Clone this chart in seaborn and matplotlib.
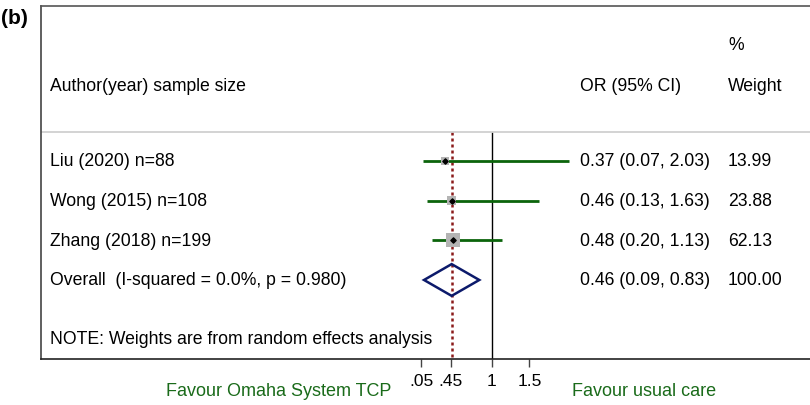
import matplotlib
matplotlib.use('Agg')
import matplotlib.pyplot as plt
import matplotlib.transforms as mtransforms
import seaborn as sns
import pandas as pd

# study data
studies = ['Liu (2020) n=88', 'Wong (2015) n=108', 'Zhang (2018) n=199']
odds = [0.37, 0.46, 0.48]
lower = [0.07, 0.13, 0.20]
upper = [2.03, 1.63, 1.13]
weights = [13.99, 23.88, 62.13]
overall_label = 'Overall  (I-squared = 0.0%, p = 0.980)'
overall = [0.46, 0.09, 0.83]
overall_weight = '100.00'
tick_vals = [0.05, 0.45, 1, 1.5]
tick_labels = ['.05', '.45', '1', '1.5']

df = pd.DataFrame({'study': studies, 'or': odds, 'lo': lower, 'hi': upper,
                   'w': weights, 'row': [1, 2, 3]})

sns.set_style('white')
plt.rcParams['font.family'] = ['Liberation Sans', 'DejaVu Sans']
plt.rcParams['text.color'] = 'black'
plt.rcParams['xtick.color'] = 'black'

fig = plt.figure(figsize=(8.1, 4.06), dpi=100)
ax = fig.add_axes([41 / 810, 46 / 406, 769 / 810, 353 / 406])
ax.set_xlim(-5.037, 5.257)
ax.set_ylim(5.99, -2.9)

# confidence intervals
ax.hlines(df['row'], df['lo'], df['hi'], color='#0b640b', lw=2.0, zorder=2)
sns.scatterplot(data=df, x='or', y='row', size='w', sizes=(28, 105), marker='s',
                color='#b4b4b4', edgecolor='none', legend=False, ax=ax, zorder=3)
ax.scatter(df['or'], df['row'], marker='D', s=7, color='black', zorder=4)

# overall diamond
est, lo, hi = overall
ax.fill([lo, est, hi, est, lo], [4, 3.6, 4, 4.4, 4], facecolor='none',
        edgecolor='#0c1a6b', lw=1.8, zorder=3)

# reference lines
ax.vlines(1, 0.27, 5.99, color='black', lw=1.0, zorder=1)
ax.vlines(est, 0.27, 5.99, color='#8b1a1a', lw=1.8, linestyles=(0, (1.2, 1.2)), zorder=1)
ax.axhline(0.27, color='#cccccc', lw=1.2)

tr = mtransforms.blended_transform_factory(fig.transFigure, ax.transData)
fs = 12.7
x_name, x_or, x_w = 50 / 810, 580 / 810, 728 / 810
ax.text(x_w, -1.92, '%', transform=tr, fontsize=fs, va='center')
ax.text(x_name, -0.91, 'Author(year) sample size', transform=tr, fontsize=fs, va='center')
ax.text(x_or, -0.91, 'OR (95% CI)', transform=tr, fontsize=fs, va='center')
ax.text(x_w, -0.91, 'Weight', transform=tr, fontsize=fs, va='center')
for _, r in df.iterrows():
    ax.text(x_name, r['row'], r['study'], transform=tr, fontsize=fs, va='center')
    ax.text(x_or, r['row'], f"{r['or']:.2f} ({r['lo']:.2f}, {r['hi']:.2f})",
            transform=tr, fontsize=fs, va='center')
    ax.text(x_w, r['row'], f"{r['w']:.2f}", transform=tr, fontsize=fs, va='center')
ax.text(x_name, 4, overall_label, transform=tr, fontsize=fs, va='center')
ax.text(x_or, 4, f'{est:.2f} ({lo:.2f}, {hi:.2f})', transform=tr, fontsize=fs, va='center')
ax.text(x_w, 4, overall_weight, transform=tr, fontsize=fs, va='center')
ax.text(x_name, 5.48, 'NOTE: Weights are from random effects analysis',
        transform=tr, fontsize=fs, va='center')

# axis
ax.set_yticks([])
ax.set_xticks(tick_vals)
ax.set_xticklabels(tick_labels, fontsize=12.5)
ax.tick_params(axis='x', direction='out', length=6, width=1, color='#444444', pad=4, bottom=True)
for side in ['left', 'top', 'bottom']:
    ax.spines[side].set_visible(True)
    ax.spines[side].set_linewidth(1.2)
ax.spines['left'].set_color('#444444')
ax.spines['top'].set_color('#555555')
ax.spines['bottom'].set_color('#222222')
ax.spines['right'].set_visible(False)
ax.set_xlabel('')
ax.set_ylabel('')

fig.text(279 / 810, 1 - 392 / 406, 'Favour Omaha System TCP', color='#1a6b1a',
         fontsize=13, ha='center', va='center')
fig.text(572 / 810, 1 - 392 / 406, 'Favour usual care', color='#1a6b1a',
         fontsize=13, ha='left', va='center')
fig.text(1 / 810, 1 - 18 / 406, '(b)', fontsize=15, fontweight='bold', va='center')

fig.savefig('out.png', dpi=100)
